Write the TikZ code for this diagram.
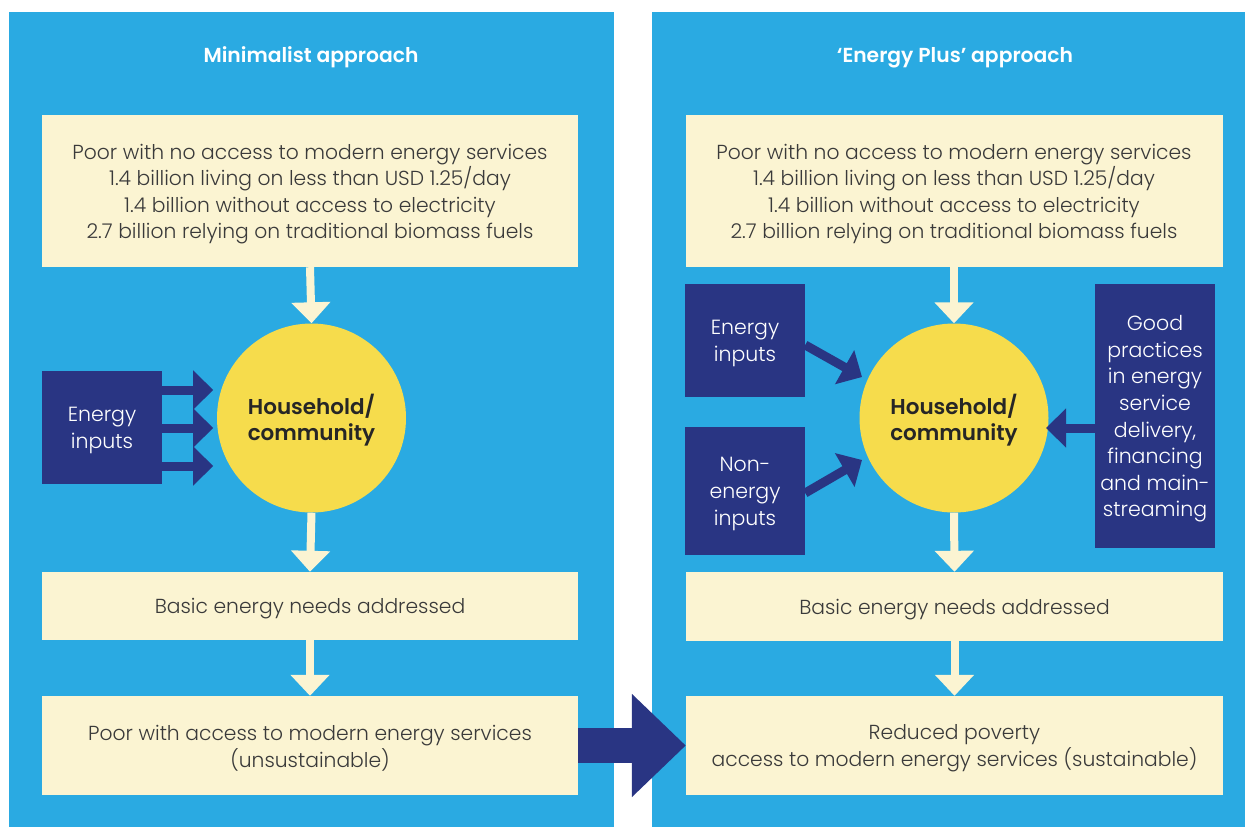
\documentclass[tikz,border=0pt]{standalone}
\usepackage{fontspec}
\setmainfont{Poppins}[UprightFont={* Light}, BoldFont={* SemiBold}]
\usetikzlibrary{arrows.meta,positioning}
\definecolor{panelblue}{HTML}{2AAAE2}
\definecolor{cream}{HTML}{FBF4D2}
\definecolor{navy}{HTML}{293583}
\definecolor{sun}{HTML}{F6DC4C}
\definecolor{txt}{HTML}{3A3A3A}
\tikzset{
  panel/.style={fill=panelblue, draw=none, anchor=north west, inner sep=0pt},
  title/.style={text=white, font=\fontsize{20.3}{24}\selectfont\bfseries},
  creambox/.style={fill=cream, draw=none, inner sep=0pt},
  navybox/.style={fill=navy, draw=none, inner sep=0pt},
  creamtext/.style={inner sep=0pt, text=txt, align=center, font=\fontsize{20.3}{26.6}\selectfont},
  navytext/.style={inner sep=0pt, text=white, align=center, font=\fontsize{20.5}{26.6}\selectfont},
  hh/.style={circle, fill=sun, draw=none, minimum size=189pt, inner sep=0pt},
  hhtext/.style={inner sep=0pt, align=center, text=black!85, font=\fontsize{21.5}{26.6}\selectfont\bfseries},
  flow/.style={draw=cream, line width=8pt, -{Triangle[width=38pt,length=21pt]}},
  push/.style={draw=navy, line width=9pt, -{Triangle[width=38pt,length=20pt]}},
  bigpush/.style={draw=navy, line width=35pt, -{Triangle[width=100pt,length=54pt]}}
}
\begin{document}
\begin{tikzpicture}[x=1pt,y=-1pt]
\useasboundingbox (0,0) rectangle (1245,827);
% panels
\node[panel, minimum width=605pt, minimum height=815pt] (lp) at (9,12) {};
\node[panel, minimum width=593pt, minimum height=815pt] (rp) at (652,12) {};
\node[title] (lt) at (311,57.5) {Minimalist approach};
\node[title] (rt) at (955,57.5) {‘Energy Plus’ approach};
% left column
\node[creambox, minimum width=536pt, minimum height=152pt] (ltop) at (310,191) {};
\node[creamtext] (ltopt) at ([yshift=-3pt]ltop.center) {Poor with no access to modern energy services\\1.4 billion living on less than USD 1.25/day\\1.4 billion without access to electricity\\2.7 billion relying on traditional biomass fuels};
\node[hh] (lhh) at (311.5,418) {};
\node[hhtext] (lhht) at ([yshift=-2pt]lhh.center) {Household/\\community};
\node[creambox, minimum width=536pt, minimum height=68pt] (lbasic) at (310,606) {};
\node[creamtext] (lbasict) at ([yshift=-3pt]lbasic.center) {Basic energy needs addressed};
\node[creambox, minimum width=536pt, minimum height=99pt] (lbot) at (310,745.5) {};
\node[creamtext] (lbott) at ([yshift=-3pt]lbot.center) {Poor with access to modern energy services\\(unsustainable)};
\node[navybox, minimum width=120pt, minimum height=113pt] (lein) at (102,427.5) {};
\node[navytext] (leint) at ([yshift=-3pt]lein.center) {Energy\\inputs};
% right column
\node[creambox, minimum width=537pt, minimum height=152pt] (rtop) at (954,191) {};
\node[creamtext] (rtopt) at ([yshift=-3pt]rtop.center) {Poor with no access to modern energy services\\1.4 billion living on less than USD 1.25/day\\1.4 billion without access to electricity\\2.7 billion relying on traditional biomass fuels};
\node[hh] (rhh) at (954,418) {};
\node[hhtext] (rhht) at ([yshift=-2pt]rhh.center) {Household/\\community};
\node[creambox, minimum width=537pt, minimum height=69pt] (rbasic) at (954.5,606.5) {};
\node[creamtext] (rbasict) at ([yshift=-3pt]rbasic.center) {Basic energy needs addressed};
\node[creambox, minimum width=537pt, minimum height=99pt] (rbot) at (954.5,745.5) {};
\node[creamtext] (rbott) at ([yshift=-3pt]rbot.center) {Reduced poverty\\access to modern energy services (sustainable)};
\node[navybox, minimum width=120pt, minimum height=113pt] (rein) at (745,340.5) {};
\node[navytext] (reint) at ([yshift=-3pt]rein.center) {Energy\\inputs};
\node[navybox, minimum width=120pt, minimum height=128pt] (rnin) at (745,491) {};
\node[navytext] (rnint) at ([yshift=-3pt]rnin.center) {Non-\\energy\\inputs};
\node[navybox, minimum width=120pt, minimum height=264pt] (rgp) at (1155,416) {};
\node[navytext] (rgpt) at ([yshift=-3pt]rgp.center) {Good\\practices\\in energy\\service\\delivery,\\financing\\and main-\\streaming};
% cream flow arrows
\draw[flow] (ltop.south) -- (lhh.north);
\draw[flow] (lhh.south) -- (lbasic.north);
\draw[flow] (lbasic.south) -- (lbot.north);
\draw[flow] (rtop.south) -- (rhh.north);
\draw[flow] (rhh.south) -- (rbasic.north);
\draw[flow] (rbasic.south) -- (rbot.north);
% left energy input arrows
\foreach \dy in {37.5,-0.5,-38.5}{
  \draw[push] ([yshift=\dy]lein.east) -- ++(51,0);
}
% right arrows
\draw[push] ([yshift=-4.5]rein.east) -- ([xshift=-92,yshift=41]rhh.center);
\draw[push] ([yshift=-2]rnin.east) -- ([xshift=-92,yshift=-42]rhh.center);
\draw[push] (rgp.west |- 0,428) -- (1046,428);
% big arrow between panels
\draw[bigpush] (lbot.east) -- (rbot.west);
\end{tikzpicture}
\end{document}
